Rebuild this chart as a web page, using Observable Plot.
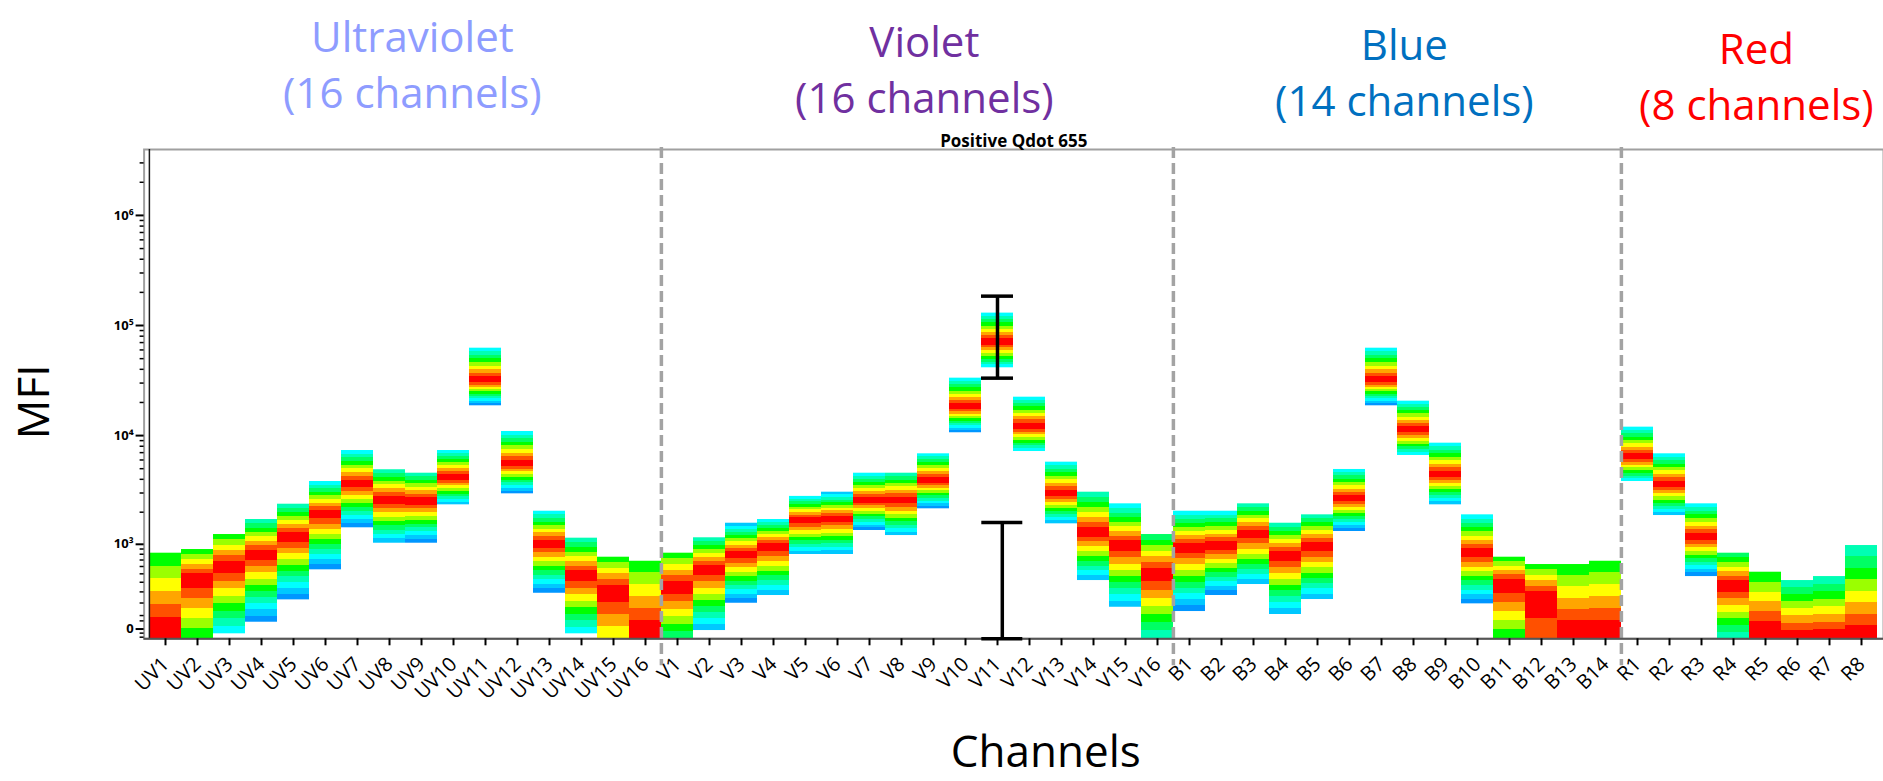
<!DOCTYPE html>
<html>
<head>
<meta charset="utf-8">
<script src="https://cdn.jsdelivr.net/npm/d3@7"></script>
<script src="https://cdn.jsdelivr.net/npm/@observablehq/plot@0.6"></script>
<style>
  html, body { margin: 0; padding: 0; background: #fff; }
  #chart { width: 1883px; height: 781px; overflow: hidden; }
</style>
</head>
<body>
<div id="chart"></div>
<script>
// Detector channels, grouped by excitation laser
const uvChannels = ["UV1","UV2","UV3","UV4","UV5","UV6","UV7","UV8","UV9","UV10","UV11","UV12","UV13","UV14","UV15","UV16"];
const violetChannels = ["V1","V2","V3","V4","V5","V6","V7","V8","V9","V10","V11","V12","V13","V14","V15","V16"];
const blueChannels = ["B1","B2","B3","B4","B5","B6","B7","B8","B9","B10","B11","B12","B13","B14"];
const redChannels = ["R1","R2","R3","R4","R5","R6","R7","R8"];

// Per-channel spread of the Qdot 655 population (MFI): upper edge, densest point, lower edge
const channelHigh = [
  819, 890, 1239, 1712, 2369, 3822, 7318, 4890, 4548, 7318, 62230, 10900, 2042, 1144, 747, 680,
  819, 1154, 1581, 1712, 2793, 3052, 4548, 4548, 6829, 33250, 129600, 22330, 5733, 3052, 2388, 1239,
  2042, 2042, 2388, 1581, 1891, 4918, 62230, 20550, 8532, 1891, 747, 629, 629, 680,
  11930, 6829, 2388, 819, 521, 419, 466, 973
];
const channelPeak = [
  -10, 439, 600, 795, 1187, 1932, 3643, 2601, 2525, 4130, 31690, 5540, 1010, 479, 313, -20,
  347, 553, 795, 952, 1676, 1736, 2562, 2562, 3902, 18110, 70600, 12100, 2949, 1303, 973, 500,
  937, 973, 1259, 777, 952, 2655, 31690, 11290, 4427, 819, 382, 250, -20, -20,
  6363, 3588, 1169, 364, -20, -60, -60, -60
];
const channelLow = [
  -72, -72, -35, 50, 227, 553, 1433, 1024, 1024, 2338, 18650, 2949, 287, -35, -72, -72,
  -72, -11, 198, 266, 795, 795, 1352, 1212, 2149, 10610, 41300, 7166, 1561, 419, 165, -72,
  131, 266, 375, 108, 230, 1323, 18650, 6594, 2338, 193, -72, -72, -72, -72,
  3822, 1863, 466, -72, -72, -72, -72, -72
];
// Density level reached at the upper and lower edge of each column (0 = sparse … 10 = densest)
const topShade = [
  5,5,5,3,3,2,2,3,3,2,2,2,2,3,5,5,
  5,3,1,2,2,1,2,3,2,2,2,2,2,3,2,4,
  2,2,3,3,3,2,2,2,2,2,5,5,5,5,
  2,2,2,4,5,3,3,3
];
const bottomShade = [
  10,5,2,0,0,0,0,1,0,1,0,0,0,2,7,10,
  4,1,0,1,1,1,0,1,0,0,2,2,1,1,1,3,
  0,0,1,1,1,0,0,2,1,0,5,9,10,10,
  2,1,0,3,10,10,10,10
];

// Range markers drawn on V11
const peakRange = [{channel: "V11", low: 33250, high: 184800}];
const floorRange = [{channel: "V11", low: -72, high: 1605}];

// Axis extent and ticks
const axisBottom = -72;
const axisTop = 3.97e6;
const majorTicks = [0, 1e3, 1e4, 1e5, 1e6];
const minorTicks = [-60, -30, 60, 100, 200, 300, 400, 500, 600, 700, 800, 900,
  2000, 3000, 4000, 5000, 6000, 7000, 8000, 9000,
  20000, 30000, 40000, 50000, 60000, 70000, 80000, 90000,
  200000, 300000, 400000, 500000, 600000, 700000, 800000, 900000,
  2000000, 3000000];

const groups = [
  {name: "Ultraviolet", channels: uvChannels, color: "#8e9cff"},
  {name: "Violet", channels: violetChannels, color: "#7030a0"},
  {name: "Blue", channels: blueChannels, color: "#0070c0"},
  {name: "Red", channels: redChannels, color: "#ff0000"}
];
const titleDrop = [0, 5, 8, 12];

// Density colour ramp, sparse → dense
const densityColors = ["#0096ff", "#00c8ff", "#00ffff", "#00ffb4", "#00ff64", "#00ff00",
  "#9bff00", "#ffff00", "#ffa500", "#ff5000", "#ff0000"];

const channels = groups.flatMap(g => g.channels);
const rows = channels.map((channel, index) => ({
  channel, index,
  high: channelHigh[index], peak: channelPeak[index], low: channelLow[index],
  topShade: topShade[index], bottomShade: bottomShade[index]
}));

// Arcsinh display transform (cytometry-style biexponential axis)
const T = v => Math.asinh(v / 350);

const W = 1883, H = 781;
const mLeft = 143.6, mRight = 0, mTop = 149, mBottom = 142.7;
const step = (W - mLeft - mRight) / channels.length;

const sup = {"3": "³", "4": "⁴", "5": "⁵", "6": "⁶"};
const fmtMajor = d => d === 0 ? "0" : "10" + sup[String(Math.round(Math.log10(d)))];

const plot = Plot.plot({
  width: W, height: H,
  marginLeft: mLeft, marginRight: mRight, marginTop: mTop, marginBottom: mBottom,
  style: {fontFamily: "'Open Sans', sans-serif", background: "white", color: "black", overflow: "visible"},
  x: {type: "band", domain: channels, padding: 0, label: null},
  y: {type: "linear", transform: T, domain: [T(axisBottom), T(axisTop)], label: null},
  color: {type: "identity"},
  marks: [
    Plot.frame({stroke: "#a0a0a0", strokeWidth: 2}),
    Plot.barY(rows, {
      x: "channel", y1: "low", y2: "high",
      fill: d => `url(#shade-${d.index})`, inset: 0
    }),
    Plot.ruleX(groups.slice(1).map(g => g.channels[0]), {
      dx: -step / 2, stroke: "#a3a3a3", strokeWidth: 3.5, strokeDasharray: "11,5",
      insetTop: -2, insetBottom: -27
    }),
    // axis lines
    Plot.ruleX([channels[0]], {dx: -step / 2, stroke: "#1a1a1a", strokeWidth: 1.5}),
    Plot.ruleY([axisBottom], {stroke: "#555", strokeWidth: 2}),
    // range markers
    Plot.ruleX(peakRange, {x: "channel", y1: "low", y2: "high", stroke: "black", strokeWidth: 3.5}),
    Plot.tickY(peakRange, {x: "channel", y: "low", stroke: "black", strokeWidth: 3.5}),
    Plot.tickY(peakRange, {x: "channel", y: "high", stroke: "black", strokeWidth: 3.5}),
    Plot.ruleX(floorRange, {x: "channel", y1: "low", y2: "high", dx: 4.8, stroke: "black", strokeWidth: 3.5}),
    Plot.tickY(floorRange, {x: "channel", y: "low", dx: 4.8, insetLeft: -4.5, insetRight: -4.5, stroke: "black", strokeWidth: 3.5}),
    Plot.tickY(floorRange, {x: "channel", y: "high", dx: 4.8, insetLeft: -4.5, insetRight: -4.5, stroke: "black", strokeWidth: 3.5}),
    // y axis
    Plot.axisY(minorTicks, {tickSize: 4, tickFormat: () => "", stroke: "black", strokeWidth: 1.5, label: null}),
    Plot.axisY(majorTicks, {tickSize: 8, tickPadding: 2.5, tickFormat: fmtMajor, stroke: "black",
      strokeWidth: 2, fontSize: 13, fontWeight: "bold", label: null}),
    // x axis
    Plot.axisX({tickSize: 7, tickFormat: () => "", stroke: "black", strokeWidth: 2, label: null}),
    Plot.axisX({tickSize: 0, tickPadding: 22, tickRotate: -45, fontSize: 20, label: null}),
    // titles
    ...groups.map((g, i) => Plot.text([g], {
      x: d => d.channels[d.channels.length / 2],
      text: d => `${d.name}\n(${d.channels.length} channels)`,
      fill: d => d.color, fontSize: 42, lineHeight: 1.33,
      frameAnchor: "top", lineAnchor: "top", dx: -step / 2 + 7, dy: -137 + titleDrop[i]
    })),
    Plot.text(["Positive Qdot 655"], {frameAnchor: "top", lineAnchor: "bottom", dy: -3,
      fontSize: 17, fontWeight: "bold"}),
    Plot.text(["MFI"], {frameAnchor: "left", rotate: -90, fontSize: 44, lineAnchor: "middle",
      dx: -109.6, dy: 45}),
    Plot.text(["Channels"], {frameAnchor: "bottom", fontSize: 44, lineAnchor: "middle", dx: 32, dy: 114})
  ]
});

// Banded density shading for each column, built from its edges and densest point
const ns = "http://www.w3.org/2000/svg";
const sy = plot.scale("y");
const [d0, d1] = sy.domain;
const [r0, r1] = sy.range;
const py = v => r0 + (T(v) - d0) / (d1 - d0) * (r1 - r0);
const defs = document.createElementNS(ns, "defs");
for (const r of rows) {
  const top = py(r.high), bottom = py(r.low);
  const mid = Math.min(Math.max(py(r.peak), top), bottom);
  const span = bottom - top;
  const grad = document.createElementNS(ns, "linearGradient");
  grad.setAttribute("id", `shade-${r.index}`);
  grad.setAttribute("x1", 0); grad.setAttribute("y1", 0);
  grad.setAttribute("x2", 0); grad.setAttribute("y2", 1);
  const bands = [];
  const nU = 11 - r.topShade;
  for (let j = 0; j < nU; j++) {
    bands.push([top + j / nU * (mid - top), top + (j + 1) / nU * (mid - top), r.topShade + j]);
  }
  const nL = 11 - r.bottomShade;
  for (let j = 0; j < nL; j++) {
    bands.push([mid + j / nL * (bottom - mid), mid + (j + 1) / nL * (bottom - mid), 10 - j]);
  }
  for (const [a, b, lvl] of bands) {
    for (const p of [a, b]) {
      const s = document.createElementNS(ns, "stop");
      s.setAttribute("offset", span > 0 ? Math.min(1, Math.max(0, (p - top) / span)) : 0);
      s.setAttribute("stop-color", densityColors[lvl]);
      grad.appendChild(s);
    }
  }
  defs.appendChild(grad);
}
plot.insertBefore(defs, plot.firstChild);

document.getElementById("chart").appendChild(plot);
</script>
</body>
</html>
